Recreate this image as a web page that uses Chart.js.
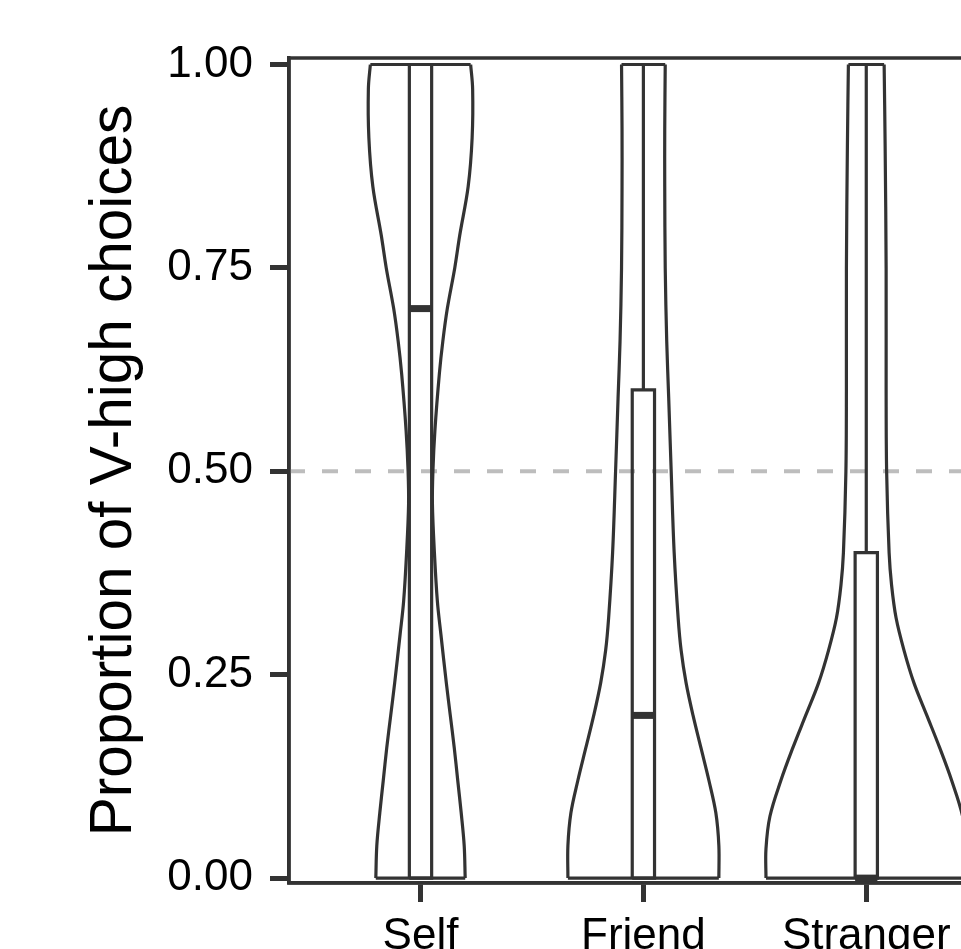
<!DOCTYPE html>
<html>
<head>
<meta charset="utf-8">
<script src="https://cdn.jsdelivr.net/npm/chart.js@4"></script>
<style>
html, body { margin: 0; padding: 0; background: #fff; overflow: hidden; }
#wrap { width: 961px; height: 949px; overflow: hidden; }
</style>
</head>
<body>
<div id="wrap"><canvas id="myChart" width="1000" height="949" style="width:1000px;height:949px"></canvas></div>
<script>
var groups = ['Self', 'Friend', 'Stranger']
var yTicks = [0, 0.25, 0.5, 0.75, 1]
var refLine = 0.5

// violin outlines: y level and density (half width, relative)
var selfY = [0, 0.04, 0.08, 0.12, 0.16, 0.20, 0.24, 0.30, 0.34, 0.40, 0.46, 0.50, 0.55, 0.62, 0.66, 0.70, 0.75, 0.79, 0.85, 0.91, 0.97, 1.0]
var selfD = [45, 44, 41, 37.5, 34, 30, 26, 20.5, 17, 14, 12, 12.5, 14.5, 19, 22.5, 27, 34.5, 39.5, 48, 52, 52.5, 50.5]

var friendY = [0, 0.04, 0.08, 0.12, 0.16, 0.20, 0.24, 0.28, 0.32, 0.40, 0.50, 0.59, 0.66, 0.75, 0.85, 0.92, 1.0]
var friendD = [76, 76, 73, 66, 58, 50, 43, 38, 35, 31, 28, 25.5, 23.5, 22, 21.5, 21.5, 22]

var strangerY = [0, 0.036, 0.076, 0.12, 0.16, 0.20, 0.24, 0.28, 0.32, 0.36, 0.40, 0.50, 0.60, 0.75, 0.90, 1.0]
var strangerD = [101, 101, 97, 86, 74, 61, 48, 38, 30, 25.5, 23, 20.5, 20, 20, 19, 18]

// box plot stats
var boxLow = [0, 0, 0]
var boxQ1 = [0, 0, 0]
var boxMedian = [0.7, 0.2, 0]
var boxQ3 = [1, 0.6, 0.4]
var boxHigh = [1, 1, 1]

var violinY = [selfY, friendY, strangerY]
var violinD = [selfD, friendD, strangerD]

var LINE = '#333333'
var FONT = '"Liberation Sans", Arial, Helvetica, sans-serif'
var violinHalf = 0.45
var boxHalf = 0.05

var maxD = 0
violinD.forEach(function (d) { d.forEach(function (v) { if (v > maxD) maxD = v }) })

var datasets = []

datasets.push({
    data: [{ x: 0.41, y: refLine }, { x: 3.6, y: refLine }],
    borderColor: '#bdbdbd', borderWidth: 4, borderDash: [16, 17], order: 10
})

function line(points, width, tension, order) {
    return {
        data: points, borderColor: LINE, borderWidth: width, tension: tension,
        borderJoinStyle: 'miter', borderCapStyle: 'butt', order: order
    }
}

groups.forEach(function (g, i) {
    var pos = i + 1
    var ys = violinY[i], ds = violinD[i]
    var k = violinHalf / maxD
    var right = [], left = []
    for (var j = 0; j < ys.length; j++) {
        right.push({ x: pos + ds[j] * k, y: ys[j] })
        left.push({ x: pos - ds[j] * k, y: ys[j] })
    }
    var n = ys.length - 1
    datasets.push(line(right, 3.2, 0.35, 5))
    datasets.push(line(left, 3.2, 0.35, 5))
    datasets.push(line([left[n], right[n]], 3.2, 0, 5))
    datasets.push(line([left[0], right[0]], 3.2, 0, 5))

    // box
    datasets.push(line([
        { x: pos - boxHalf, y: boxQ1[i] }, { x: pos + boxHalf, y: boxQ1[i] },
        { x: pos + boxHalf, y: boxQ3[i] }, { x: pos - boxHalf, y: boxQ3[i] },
        { x: pos - boxHalf, y: boxQ1[i] }
    ], 3.2, 0, 3))
    if (boxHigh[i] > boxQ3[i]) datasets.push(line([{ x: pos, y: boxQ3[i] }, { x: pos, y: boxHigh[i] }], 3.2, 0, 3))
    if (boxLow[i] < boxQ1[i]) datasets.push(line([{ x: pos, y: boxLow[i] }, { x: pos, y: boxQ1[i] }], 3.2, 0, 3))
    datasets.push(line([{ x: pos - boxHalf, y: boxMedian[i] }, { x: pos + boxHalf, y: boxMedian[i] }], 7, 0, 1))
})

var panelBorder = {
    id: 'panelBorder',
    afterDraw: function (chart) {
        var a = chart.chartArea, ctx = chart.ctx
        ctx.save()
        ctx.strokeStyle = LINE
        ctx.lineWidth = 3.5
        ctx.strokeRect(a.left, a.top, a.right - a.left, a.bottom - a.top)
        ctx.restore()
    }
}

var myChart = document.getElementById('myChart').getContext('2d')
var chart = new Chart(myChart, {
    type: 'scatter',
    data: { datasets: datasets },
    plugins: [panelBorder],
    options: {
        responsive: false,
        maintainAspectRatio: false,
        animation: false,
        layout: { padding: { left: 76, top: 58, right: 0, bottom: 0 } },
        datasets: { scatter: { showLine: true, pointRadius: 0, pointHoverRadius: 0, fill: false } },
        plugins: { legend: { display: false }, tooltip: { enabled: false } },
        scales: {
            x: {
                type: 'linear', min: 0.41, max: 3.6,
                afterBuildTicks: function (s) { s.ticks = [1, 2, 3].map(function (v) { return { value: v } }) },
                afterFit: function (s) { s.height = 66 },
                grid: { drawOnChartArea: false, drawTicks: true, tickLength: 19, tickWidth: 5, tickColor: LINE },
                border: { display: true, color: LINE, width: 3.5 },
                ticks: {
                    padding: 8, color: '#000', maxRotation: 0, autoSkip: false,
                    font: { family: FONT, size: 44 },
                    callback: function (v) { return groups[Math.round(v) - 1] }
                }
            },
            y: {
                type: 'linear', min: -0.006, max: 1.008,
                afterBuildTicks: function (s) { s.ticks = yTicks.map(function (v) { return { value: v } }) },
                afterFit: function (s) { s.width = 213 },
                grid: { drawOnChartArea: false, drawTicks: true, tickLength: 19, tickWidth: 5, tickColor: LINE },
                border: { display: true, color: LINE, width: 3.5 },
                ticks: {
                    padding: 17, color: '#000',
                    font: { family: FONT, size: 44 },
                    callback: function (v) { return v.toFixed(2) }
                },
                title: {
                    display: true, text: 'Proportion of V-high choices', color: '#000',
                    font: { family: FONT, size: 58.5 }, padding: { top: 4, bottom: 0 }
                }
            }
        }
    }
})
</script>
</body>
</html>
